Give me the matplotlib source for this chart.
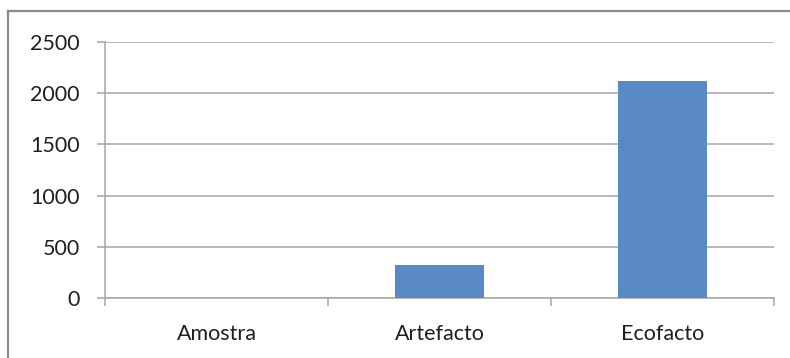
import numpy as np
import matplotlib.pyplot as plt
from matplotlib.lines import Line2D
from matplotlib.ticker import FixedLocator

# ----- Data ----- #
categorias = ["Amostra", "Artefacto", "Ecofacto"]
valores = [0, 322, 2120]
y_ticks = [0, 500, 1000, 1500, 2000, 2500]

plt.rcParams['font.family'] = ['Lato', 'DejaVu Sans']

W, H = 790, 358
fig = plt.figure(figsize=(W / 100, H / 100), dpi=100)

# axes area in pixels: left 105, right 774, top 42, bottom 298
ax = fig.add_axes([105 / W, (H - 298) / H, (774 - 105) / W, (298 - 42) / H])

x = np.arange(len(categorias))
ax.bar(x, valores, width=0.4, color='#5a8ac6', zorder=3)

ax.set_xlim(-0.5, len(categorias) - 0.5)
ax.set_ylim(0, 2500)
ax.set_yticks(y_ticks)
ax.set_yticklabels([str(v) for v in y_ticks])

ax.yaxis.grid(True, color='#a6a6a6', linewidth=1.1, zorder=0)
ax.set_axisbelow(True)

for s in ['top', 'right']:
    ax.spines[s].set_visible(False)
for s in ['left', 'bottom']:
    ax.spines[s].set_color('#a6a6a6')
    ax.spines[s].set_linewidth(1.1)

# category labels without marks, marks at boundaries
ax.set_xticks(x)
ax.set_xticklabels(categorias)
ax.tick_params(axis='x', which='major', length=0, pad=19, labelsize=15.5, labelcolor='#1f1f1f')
ax.xaxis.set_minor_locator(FixedLocator(np.arange(len(categorias) + 1) - 0.5))
ax.tick_params(axis='x', which='minor', length=6, width=1.1, color='#a6a6a6', direction='out')
ax.tick_params(axis='y', length=6, width=1.1, color='#a6a6a6', pad=12, labelsize=15.5, labelcolor='#1f1f1f')

# chart area border (left and top visible)
fig.add_artist(Line2D([8 / W, 8 / W], [0, (H - 11) / H], transform=fig.transFigure,
                      color='#8c8c8c', linewidth=1.6))
fig.add_artist(Line2D([8 / W, 1], [(H - 11) / H, (H - 11) / H], transform=fig.transFigure,
                      color='#8c8c8c', linewidth=1.6))

fig.savefig('out.png', dpi=100)
